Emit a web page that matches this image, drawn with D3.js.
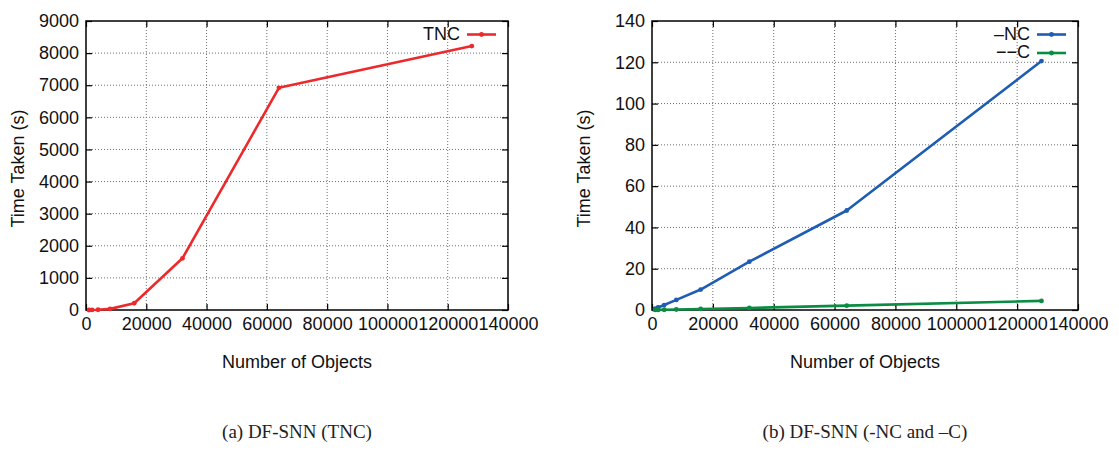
<!DOCTYPE html>
<html>
<head>
<meta charset="utf-8">
<script src="https://cdn.jsdelivr.net/npm/d3@7"></script>
<style>
  html, body { margin: 0; padding: 0; background: #fff; }
  svg { display: block; }
  .tick text { font-family: "Liberation Sans", Arial, sans-serif; font-size: 18px; fill: #111; }
</style>
</head>
<body>
<svg id="fig" width="1119" height="450"></svg>
<script>
// Dataset sizes (number of objects) and measured run times in seconds
const objects = [1000, 2000, 4000, 8000, 16000, 32000, 64000, 128000];
const tncTime = [0.5, 2, 8, 35, 210, 1610, 6920, 8220];
const ncTime = [0.6, 1.2, 2.4, 4.9, 9.9, 23.4, 48.2, 120.6];
const cTime = [0.03, 0.06, 0.12, 0.25, 0.5, 1.0, 2.1, 4.4];

const xTicks = [0, 20000, 40000, 60000, 80000, 100000, 120000, 140000];
const yTicksA = [0, 1000, 2000, 3000, 4000, 5000, 6000, 7000, 8000, 9000];
const yTicksB = [0, 20, 40, 60, 80, 100, 120, 140];

const seriesA = [{ name: "TNC", values: tncTime, color: "#ec2a2c" }];
const seriesB = [
  { name: "\u2013NC", values: ncTime, color: "#1f5cb3" },
  { name: "\u2212\u2212C", values: cTime, color: "#0a8c42" }
];

const svg = d3.select("#fig");
const sans = '"Liberation Sans", Arial, sans-serif';

function panel(opts) {
  const { left, right, top, bottom, yMax, yTicks, series, caption } = opts;
  const x = d3.scaleLinear().domain([0, 140000]).range([left, right]);
  const y = d3.scaleLinear().domain([0, yMax]).range([bottom, top]);
  const g = svg.append("g");

  // dotted grid
  const grid = g.append("g").attr("stroke", "#6e6e6e").attr("stroke-width", 1)
    .attr("stroke-dasharray", "1,2");
  xTicks.slice(1, -1).forEach(v => {
    grid.append("line").attr("x1", x(v)).attr("x2", x(v)).attr("y1", top).attr("y2", bottom);
  });
  yTicks.slice(1, -1).forEach(v => {
    grid.append("line").attr("x1", left).attr("x2", right).attr("y1", y(v)).attr("y2", y(v));
  });

  // axes with inward ticks on all four sides
  const ax = (gen, tr, labels) => {
    const a = g.append("g").attr("transform", tr).call(gen);
    a.select(".domain").remove();
    a.selectAll(".tick line").attr("stroke", "#000").attr("stroke-width", 1.2);
    if (!labels) a.selectAll(".tick text").remove();
    return a;
  };
  ax(d3.axisBottom(x).tickValues(xTicks).tickFormat(d3.format("d")).tickSizeInner(-6).tickSizeOuter(0).tickPadding(7),
     `translate(0,${bottom})`, true);
  ax(d3.axisLeft(y).tickValues(yTicks).tickFormat(d3.format("d")).tickSizeInner(-6).tickSizeOuter(0).tickPadding(7),
     `translate(${left},0)`, true);
  ax(d3.axisTop(x).tickValues(xTicks).tickSizeInner(-6).tickSizeOuter(0), `translate(0,${top})`, false);
  ax(d3.axisRight(y).tickValues(yTicks).tickSizeInner(-6).tickSizeOuter(0), `translate(${right},0)`, false);

  g.append("rect").attr("x", left).attr("y", top).attr("width", right - left).attr("height", bottom - top)
    .attr("fill", "none").attr("stroke", "#000").attr("stroke-width", 1.5);

  // series lines and point markers
  const line = d3.line().x((d, i) => x(objects[i])).y(d => y(d));
  series.forEach(s => {
    g.append("path").datum(s.values).attr("d", line).attr("fill", "none")
      .attr("stroke", s.color).attr("stroke-width", 2.6).attr("stroke-linejoin", "round");
    g.append("g").selectAll("circle").data(s.values).join("circle")
      .attr("cx", (d, i) => x(objects[i])).attr("cy", d => y(d)).attr("r", 2.4).attr("fill", s.color);
  });

  // legend, top right inside the frame
  series.forEach((s, i) => {
    const ly = top + 13.5 + i * 18.5;
    const lx1 = right - 41, lx2 = right - 12;
    g.append("text").attr("x", lx1 - 7).attr("y", ly + 5).attr("text-anchor", "end")
      .attr("font-family", sans).attr("font-size", 18).attr("fill", "#111").text(s.name);
    g.append("line").attr("x1", lx1).attr("x2", lx2).attr("y1", ly).attr("y2", ly)
      .attr("stroke", s.color).attr("stroke-width", 2.6);
    g.append("circle").attr("cx", (lx1 + lx2) / 2).attr("cy", ly).attr("r", 2.4).attr("fill", s.color);
  });

  // axis titles
  g.append("text").attr("x", (left + right) / 2).attr("y", 368).attr("text-anchor", "middle")
    .attr("font-family", sans).attr("font-size", 18).attr("fill", "#111").text("Number of Objects");
  g.append("text").attr("transform", `translate(${left - 62},${(top + bottom) / 2 + 3}) rotate(-90)`)
    .attr("text-anchor", "middle").attr("font-family", sans).attr("font-size", 18).attr("fill", "#111")
    .text("Time Taken (s)");

  // sub-figure caption
  g.append("text").attr("x", (left + right) / 2).attr("y", 438).attr("text-anchor", "middle")
    .attr("font-family", '"Liberation Serif", "Times New Roman", serif').attr("font-size", 19)
    .attr("fill", "#222").text(caption);
}

panel({ left: 86, right: 508, top: 21, bottom: 310, yMax: 9000, yTicks: yTicksA,
        series: seriesA, caption: "(a) DF-SNN (TNC)" });
panel({ left: 652, right: 1078, top: 21, bottom: 310, yMax: 140, yTicks: yTicksB,
        series: seriesB, caption: "(b) DF-SNN (-NC and \u2013C)" });
</script>
</body>
</html>
